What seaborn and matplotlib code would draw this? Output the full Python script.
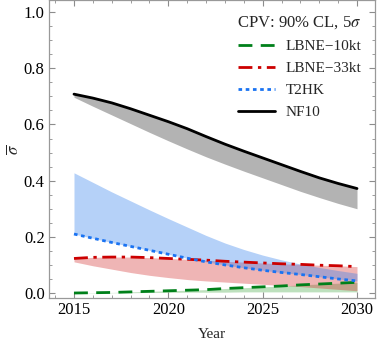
import numpy as np
import pandas as pd
import seaborn as sns
import matplotlib.pyplot as plt

years = np.arange(2015, 2031)

# best-case lines (upper edge) and lower edge of each band
nf10 = [0.708, 0.694, 0.677, 0.656, 0.633, 0.61, 0.585, 0.557, 0.53, 0.505,
        0.481, 0.457, 0.433, 0.41, 0.39, 0.372]
nf10_low = [0.697, 0.665, 0.634, 0.603, 0.572, 0.542, 0.513, 0.485, 0.459,
            0.434, 0.41, 0.386, 0.362, 0.34, 0.319, 0.30]

t2hk = [0.21, 0.195, 0.18, 0.166, 0.152, 0.138, 0.124, 0.111, 0.10, 0.09,
        0.081, 0.073, 0.066, 0.058, 0.05, 0.043]
t2hk_high = [0.428, 0.394, 0.36, 0.328, 0.296, 0.265, 0.235, 0.205, 0.178,
             0.155, 0.135, 0.118, 0.103, 0.091, 0.08, 0.07]

lbne33 = [0.123, 0.127, 0.128, 0.128, 0.126, 0.123, 0.12, 0.117, 0.113, 0.11,
          0.107, 0.104, 0.102, 0.099, 0.097, 0.094]
lbne33_low = [0.111, 0.097, 0.085, 0.073, 0.063, 0.055, 0.048, 0.043, 0.039,
              0.035, 0.031, 0.027, 0.023, 0.018, 0.013, 0.008]

lbne10 = [0.0, 0.001, 0.002, 0.004, 0.006, 0.008, 0.01, 0.012, 0.016, 0.019,
          0.022, 0.025, 0.029, 0.032, 0.035, 0.038]
lbne10_low = [0.0, 0.0, 0.001, 0.001, 0.002, 0.002, 0.003, 0.003, 0.003,
              0.004, 0.004, 0.004, 0.004, 0.004, 0.004, 0.004]

sns.set_style("ticks")
plt.rcParams["font.family"] = ["Liberation Serif", "DejaVu Serif"]
plt.rcParams["mathtext.fontset"] = "stix"

df = pd.DataFrame({"Year": years, "NF10": nf10, "T2HK": t2hk,
                   "LBNE33": lbne33, "LBNE10": lbne10})

fig = plt.figure(figsize=(3.82, 3.43), dpi=100)
ax = fig.add_axes([0.128, 0.131, 0.854, 0.868])

# bands
ax.fill_between(years, nf10_low, nf10, color=(0.7, 0.7, 0.7), lw=0)
ax.fill_between(years, lbne10_low, lbne10, color=(0.15, 0.6, 0.15), alpha=0.3, lw=0)
ax.fill_between(years, lbne33_low, lbne33, color=(0.82, 0.12, 0.12), alpha=0.33, lw=0)
ax.fill_between(years, t2hk, t2hk_high, color=(0.2, 0.5, 0.93), alpha=0.36, lw=0)

sns.lineplot(data=df, x="Year", y="LBNE10", ax=ax, color=(0.0, 0.5, 0.1),
             lw=2, label="LBNE\u221210kt")
sns.lineplot(data=df, x="Year", y="LBNE33", ax=ax, color=(0.8, 0.0, 0.0),
             lw=2, label="LBNE\u221233kt")
sns.lineplot(data=df, x="Year", y="T2HK", ax=ax, color=(0.1, 0.45, 0.95),
             lw=2, label="T2HK")
sns.lineplot(data=df, x="Year", y="NF10", ax=ax, color="black",
             lw=2, label="NF10")
ax.lines[0].set_dashes([5, 3])
ax.lines[1].set_dashes([5, 2, 1.2, 2])
ax.lines[2].set_dashes([1.3, 1.3])

ax.set_xlim(2013.67, 2030.96)
ax.set_ylim(-0.018, 1.042)
ax.set_xticks([2015, 2020, 2025, 2030])
ax.set_xticks(np.arange(2014, 2031), minor=True)
ax.set_yticks(np.arange(0, 1.01, 0.2))
ax.set_yticks(np.arange(0, 1.01, 0.05), minor=True)
ax.set_yticklabels([f"{v:.1f}" for v in np.arange(0, 1.01, 0.2)])
ax.tick_params(which="both", direction="in", top=True, right=True,
               color="0.55", labelsize=12, labelcolor="black")
ax.tick_params(which="major", length=4, pad=3)
ax.tick_params(which="minor", length=2)
for s in ax.spines.values():
    s.set_color("0.6")
    s.set_linewidth(0.9)

ax.set_xlabel("Year", fontsize=11, labelpad=7)
ax.set_ylabel(r"$\overline{\sigma}$", fontsize=12, labelpad=1)

leg = ax.legend(title="CPV: 90% CL, 5$\\sigma$", loc="upper right",
                frameon=False, fontsize=11, title_fontsize=12,
                handlelength=2.4, handletextpad=0.7, labelspacing=0.55,
                alignment="right", borderaxespad=0.5)

fig.savefig("out.png", dpi=100)
